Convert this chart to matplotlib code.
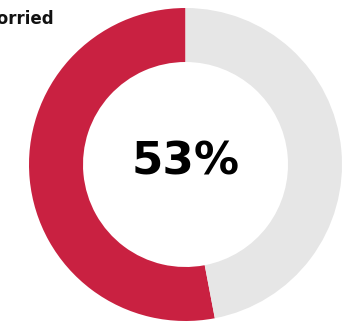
import matplotlib.pyplot as plt

# data
labels = ["Worried", "Not worried"]
shares = [53, 47]
colors = ["#C92141", "#E6E6E6"]
title = "Worried"
center_label = "53%"

fig = plt.figure(figsize=(3.44, 3.23), dpi=100)
ax = fig.add_axes([0, 0, 1, 1])
ax.set_xlim(0, 344)
ax.set_ylim(0, 323)
ax.set_aspect("equal")
ax.axis("off")

# donut
ax.pie(shares, colors=colors, startangle=90, counterclock=True,
       center=(185.5, 158.5), radius=156.5,
       wedgeprops=dict(width=54, linewidth=0))
ax.set_xlim(0, 344)
ax.set_ylim(0, 323)

# big number in the middle
ax.text(186, 161, center_label, ha="center", va="center",
        fontsize=32.5, fontweight="bold", color="black")

# title, cut off at the left edge like the original
fig.text(-0.059, 0.94, title, ha="left", va="center",
         fontsize=12, fontweight="bold", color="#111111")

fig.savefig("out.png", dpi=100)
